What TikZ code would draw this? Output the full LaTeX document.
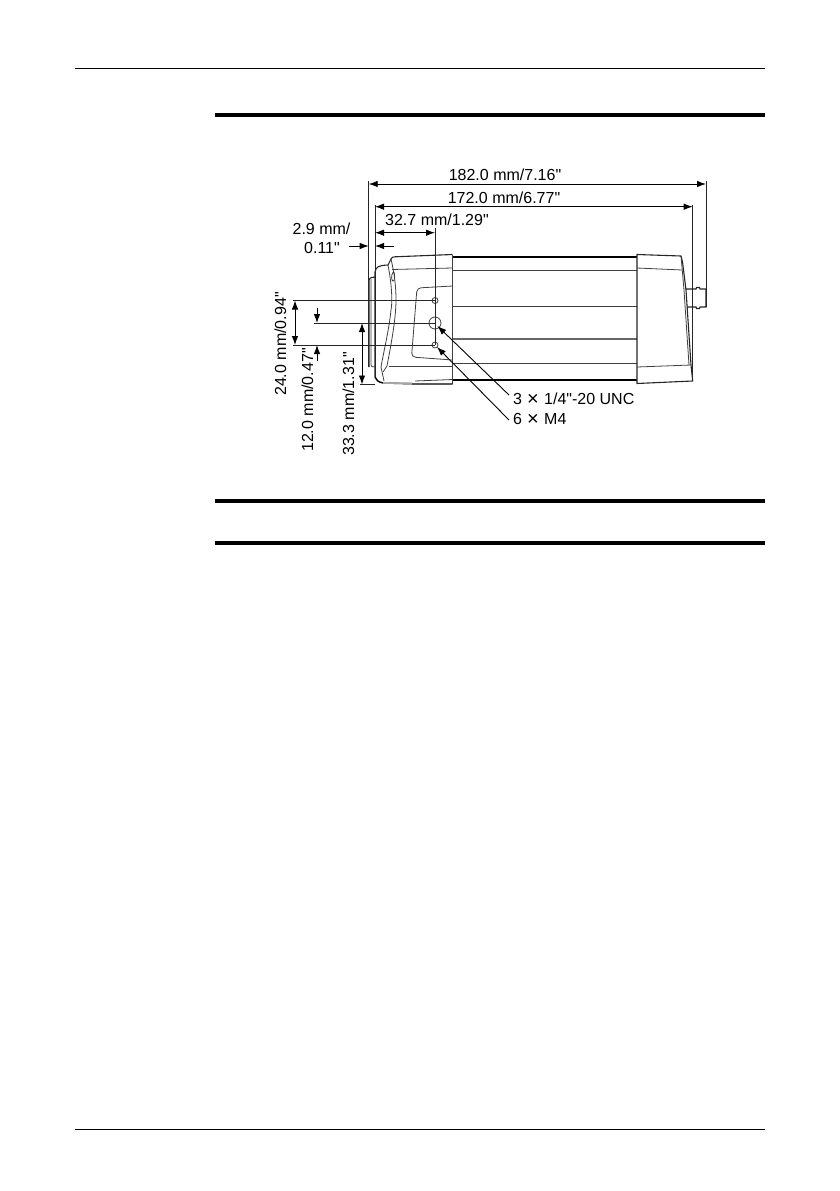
\documentclass[tikz,border=0pt]{standalone}
\usepackage{fontspec}
\newfontfamily\lblfont{Liberation Sans}
\usetikzlibrary{arrows.meta}
\newcommand{\bigtimes}{\hspace{0.5pt}\smash{\fontsize{20}{18}\selectfont\raisebox{-1pt}{×}}\hspace{1pt}}
\tikzset{
  dim/.style={line width=0.9pt,{Latex[length=9pt,width=6.5pt]}-{Latex[length=9pt,width=6.5pt]}},
  oneway/.style={line width=0.9pt,-{Latex[length=9pt,width=6.5pt]}},
  ext/.style={line width=0.9pt,black!85},
  thin body/.style={line width=0.8pt,black!75},
  mid body/.style={line width=1.1pt,black!85},
  thick body/.style={line width=1.4pt,black},
  rule/.style={line width=3.6pt,black},
  hair/.style={line width=0.7pt,black},
  lbl/.style={font=\lblfont\fontsize{16}{18}\selectfont,inner sep=0pt,anchor=base},
  lbll/.style={lbl,anchor=base west},
  lblv/.style={lbl,anchor=base west,rotate=90},
}
\begin{document}
\begin{tikzpicture}[x=1pt,y=-1pt]
\useasboundingbox (0,0) rectangle (839,1191);
\fill[white] (0,0) rectangle (839,1191);
% page rules
\draw[hair] (75,68) -- (765,68);
\draw[hair] (75,1129) -- (765,1129);
\draw[rule] (215,115) -- (765,115);
\draw[rule] (215,501) -- (765,501);
\draw[rule] (215,543) -- (765,543);
% anchors
\coordinate (xa) at (368.7,181);
\coordinate (xb) at (375,205);
\coordinate (xc) at (692.7,205);
\coordinate (xd) at (706,181);
\coordinate (h1) at (435,300.5);
\coordinate (h2) at (435,323);
\coordinate (h3) at (435,345);
% camera: main tube
\draw[thick body] (452.5,256.8) -- (637,256.8);
\draw[thick body] (452.5,380) -- (637,380);
\draw[thin body] (452.5,270) -- (637,270);
\draw[thin body] (452.5,306.7) -- (637,306.7);
\draw[line width=1.1pt,black!60] (452.5,339) -- (637,339);
\draw[thin body] (452.5,363) -- (637,363);
% camera: rear block
\draw[mid body,line join=round] (637,254.5) -- (681,256) -- (682.5,262) -- (686,290) -- (691,365) -- (692.7,381) -- (637,383.5) -- cycle;
\draw[thin body] (637,268) -- (682,270);
\draw[thin body] (637,367) -- (691,365);
\draw[thin body] (681,256) -- (684,290) -- (689,365);
% connector
\draw[mid body] (685.5,289) -- (696,289) -- (696.5,287.5) -- (699.5,287.5) -- (700,289) -- (706,289) -- (706,307) -- (700,307) -- (699.5,308.5) -- (696.5,308.5) -- (696,307) -- (687,307);
% camera: front block
\draw[mid body,line join=round] (375,277) -- (375,272) .. controls (376,267) and (378,265.5) .. (388,265) -- (391,259) .. controls (392,257) and (393,257) .. (395,256.8) -- (452.5,254.5);
\draw[thin body] (452.5,254.5) -- (452.5,383.5);
\draw[thin body] (392,269.5) -- (452.5,268);
\draw[thin body] (388,265) .. controls (391,280) and (393,300) .. (391,310) .. controls (389,330) and (384,350) .. (381,367) -- (384,381);
\draw[thin body] (391,259) .. controls (394,272) and (396,285) .. (396,300) .. controls (396,320) and (390,350) .. (387,366) -- (383,372);
\draw[thin body] (394,272) .. controls (396,280) and (393,283) .. (392,280) .. controls (391,277) and (392,272) .. (394,272);
\draw[thin body,rounded corners=4pt] (452.5,286) -- (417,288) -- (411.5,357) -- (452.5,360);
\draw[thin body] (389,366) -- (452.5,366);
\draw[thin body] (452.5,379.5) -- (415,381);
\draw[thick body] (375,377) .. controls (376,380) and (378,382) .. (383,383) -- (412,383.8) (412,384) -- (452.5,384);
\draw[line width=1.6pt,black!35] (383,383) -- (412,383.2);
% camera: lens
\draw[mid body] (369,367) -- (369,280) .. controls (369,278.5) and (370,277.5) .. (375,277) -- (375,377);
\draw[thin body] (371,279) -- (371,365) .. controls (371,366.5) and (372,367) .. (375,367);
% holes
\draw[thin body] (h1) circle (3);
\draw[thin body] (h2) circle (6);
\draw[thin body] (h3) circle (3);
% extension lines
\draw[ext] (xa) -- (368.7,367);
\draw[ext] (xb) -- (375,377);
\draw[ext] (xc) -- (692.7,380);
\draw[ext] (xd) -- (706,307);
\draw[ext] (435,228) -- (h3);
\draw[ext] (293,300.5) -- (h1);
\draw[ext] (314,323) -- (h2);
\draw[ext] (293,345) -- (h3);
\coordinate (bot) at (360,384.5);
\draw[ext] (bot) -- (375,384.5);
% dimensions
\draw[dim] (368.7,184) -- (706,184);
\draw[dim] (375,206.7) -- (692.7,206.7);
\draw[dim] (375,232.7) -- (435,232.7);
\draw[oneway] (349,246) -- (368.7,246);
\draw[oneway] (394,246) -- (375,246);
\draw[dim] (295,300.5) -- (295,345);
\draw[oneway] (317,308) -- (317,323);
\draw[oneway] (317,361) -- (317,345);
\draw[dim] (362,323) -- (362,384.5);
% leaders
\coordinate (t1) at (509,395);
\coordinate (t2) at (509,420);
\draw[oneway] (t1) -- (437.5,326);
\draw[oneway] (t2) -- (437,347);
% labels
\node[lbl] (d182) at (505,180) {182.0 mm/7.16"};
\node[lbl] (d172) at (504,203.3) {172.0 mm/6.77"};
\node[lbll] (d327) at (385,225.7) {32.7 mm/1.29"};
\node[lbl] (d29a) at (321.5,234) {2.9 mm/};
\node[lbl] (d29b) at (322,253) {0.11"};
\node[lblv] (d24) at (286,396) {24.0 mm/0.94"};
\node[lblv] (d12) at (313,452) {12.0 mm/0.47"};
\node[lblv] (d33) at (354,456) {33.3 mm/1.31"};
\node[lbll] (l1) at (513,404) {3 \bigtimes{} 1/4"-20 UNC};
\node[lbll] (l2) at (513,424) {6 \bigtimes{} M4};
\end{tikzpicture}
\end{document}
